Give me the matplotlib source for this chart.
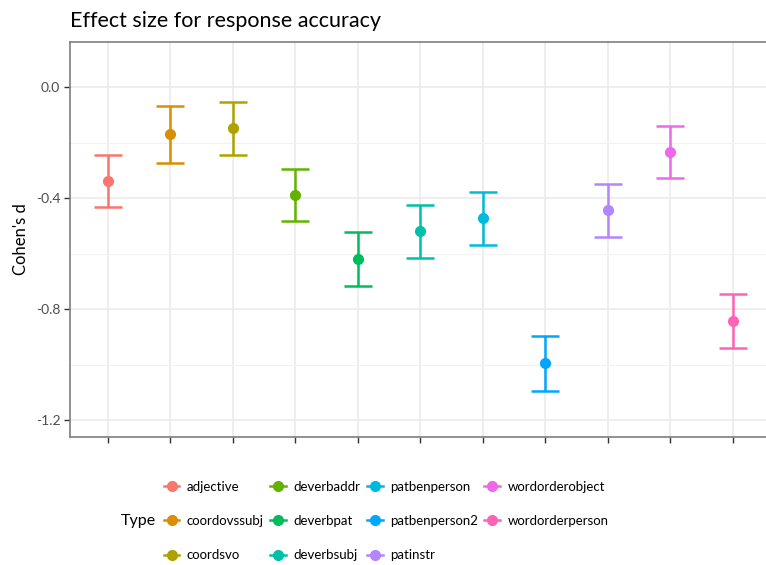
import matplotlib
matplotlib.use("Agg")
from matplotlib import pyplot as plt
from matplotlib.lines import Line2D
from matplotlib.ticker import MultipleLocator
import numpy as np

plt.rcParams['font.family'] = ['Lato', 'DejaVu Sans']

# values
types = ['adjective', 'coordovssubj', 'coordsvo', 'deverbaddr', 'deverbpat',
         'deverbsubj', 'patbenperson', 'patbenperson2', 'patinstr',
         'wordorderobject', 'wordorderperson']
effect = [-0.340, -0.169, -0.149, -0.389, -0.619, -0.518, -0.473, -0.995,
          -0.443, -0.234, -0.842]
upper = [-0.245, -0.067, -0.053, -0.295, -0.522, -0.424, -0.378, -0.895,
         -0.349, -0.140, -0.744]
lower = [-0.433, -0.273, -0.244, -0.484, -0.715, -0.616, -0.568, -1.094,
         -0.539, -0.328, -0.940]
colors = ['#F8766D', '#DB8E00', '#AEA200', '#64B200', '#00BD5C', '#00C1A7',
          '#00BADE', '#00A6FF', '#B385FF', '#EF67EB', '#FF63B6']

W, H = 766, 565
fig = plt.figure(figsize=(W / 100, H / 100), dpi=100)
ax = fig.add_axes([70 / W, (H - 437) / H, (770 - 70) / W, (437 - 42) / H])

x = np.arange(1, len(types) + 1)
for i, t in enumerate(types):
    err = [[effect[i] - lower[i]], [upper[i] - effect[i]]]
    ax.errorbar(x[i], effect[i], yerr=err, fmt='o', color=colors[i],
                ms=7, elinewidth=1.8, capsize=10, capthick=1.8, zorder=3)

ax.set_xlim(0.4, 11.6)
ax.set_ylim(-1.26, 0.162)
ax.set_xticks(x)
ax.set_xticklabels([])
ax.yaxis.set_minor_locator(MultipleLocator(0.2))
ax.set_yticks([0.0, -0.4, -0.8, -1.2])
ax.set_yticklabels(['0.0', '-0.4', '-0.8', '-1.2'])
ax.grid(which='major', color='#EBEBEB', lw=1.2, zorder=0)
ax.grid(which='minor', axis='y', color='#F2F2F2', lw=0.8, zorder=0)
ax.tick_params(which='minor', length=0)
ax.tick_params(which='major', length=4, color='#333333', width=1,
               labelsize=10, labelcolor='#4D4D4D', pad=3)
for s in ax.spines.values():
    s.set_color('#7F7F7F')
    s.set_linewidth(1.2)
ax.set_axisbelow(True)

ax.set_ylabel("Cohen's d", fontsize=12, labelpad=5)
fig.text(70 / W, 1 - 21 / H, 'Effect size for response accuracy',
         fontsize=15.5, ha='left', va='center')

handles = [Line2D([], [], color=c, marker='o', ms=7, lw=1.8) for c in colors]
fig.legend(handles, types, loc='center left',
           bbox_to_anchor=(157 / W, 1 - 521 / H), ncol=4, frameon=False,
           fontsize=9.5, handlelength=1.2, handletextpad=0.55,
           columnspacing=0.5, labelspacing=1.7, borderpad=0)
fig.text(121 / W, 1 - 521 / H, 'Type', fontsize=11.5, ha='left', va='center')

fig.savefig('out.png', dpi=100)
